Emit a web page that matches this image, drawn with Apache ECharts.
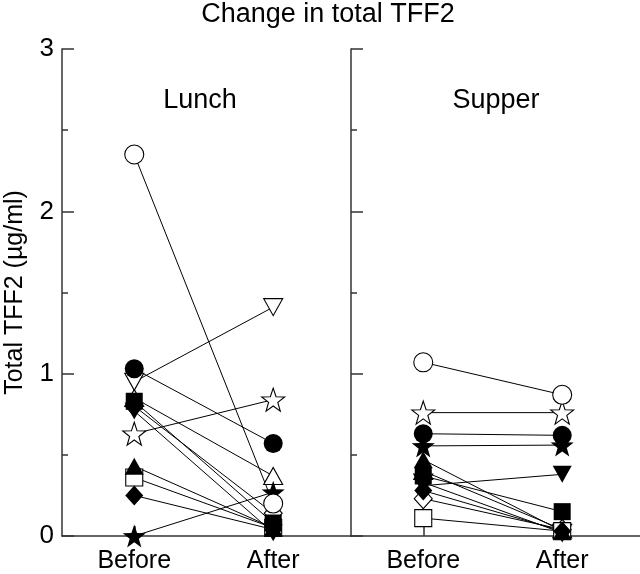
<!DOCTYPE html>
<html>
<head>
<meta charset="utf-8">
<script src="https://cdn.jsdelivr.net/npm/echarts@6/dist/echarts.min.js"></script>
<style>html,body{margin:0;padding:0;background:#fff}#c{width:640px;height:574px}</style>
</head>
<body>
<div id="c"></div>
<script>
// ---- data ----
var phases = ['Before', 'After'];
var panels = ['Lunch', 'Supper'];
var titleText = 'Change in total TFF2';
var yName = 'Total TFF2 (µg/ml)';
var yTicks = [0, 1, 2, 3];
// subjects, in drawing order
var subjectSymbols = ['triangle', 'diamond', 'triangleDown', 'rect', 'diamond', 'triangle', 'triangleDown', 'rect', 'star', 'circle', 'star', 'circle'];
var subjectFilled  = [false, false, false, false, true, true, true, true, true, true, false, false];
var lunchBefore  = [0.85, 0.80, 0.95, 0.36, 0.25, 0.43, 0.77, 0.83, 0.00, 1.03, 0.63, 2.35];
var lunchAfter   = [0.37, 0.14, 1.41, 0.05, 0.04, 0.05, 0.02, 0.08, 0.27, 0.57, 0.84, 0.20];
var supperBefore = [0.40, 0.23, 0.33, 0.11, 0.28, 0.47, 0.31, 0.37, 0.555, 0.63, 0.76, 1.07];
var supperAfter  = [0.04, 0.04, 0.02, 0.03, 0.03, 0.03, 0.38, 0.15, 0.56, 0.62, 0.76, 0.87];

// ---- rendering ----
var FONT = '"Liberation Sans", Arial, sans-serif';
var AX = '#333';
var STAR = 'path://M0,-10L2.35,-3.24L9.51,-3.09L3.8,1.24L5.88,8.09L0,4L-5.88,8.09L-3.8,1.24L-9.51,-3.09L-2.35,-3.24Z';
function symbolOf(s) {
  if (s === 'star') return STAR;
  if (s === 'triangleDown') return 'triangle';
  return s;
}
function sizeOf(s) {
  if (s === 'star') return 23;
  if (s === 'rect') return 17;
  if (s === 'circle') return 19;
  if (s === 'diamond') return [18, 20];
  return [19, 17];
}
var chart = echarts.init(document.getElementById('c'), null, {renderer: 'canvas'});
var panelData = [[lunchBefore, lunchAfter], [supperBefore, supperAfter]];

var grids = [
  {left: 62, top: 49, width: 289, height: 492},
  {left: 351, top: 49, width: 289, height: 492}
];
var xAxes = [], yAxes = [], series = [];
for (var p = 0; p < 2; p++) {
  xAxes.push({
    gridIndex: p, type: 'value', min: -0.52, max: 1.56,
    axisLine: {show: true, onZero: false, lineStyle: {color: AX, width: 1.5}},
    axisTick: {show: true, inside: true, length: 10, customValues: [0, 1], lineStyle: {color: AX, width: 1.5}},
    axisLabel: {customValues: [0, 1], formatter: function (v) { return phases[v]; }, fontSize: 25, color: '#000', fontFamily: FONT, margin: 13},
    splitLine: {show: false}
  });
  yAxes.push({
    gridIndex: p, type: 'value', min: yTicks[0], max: yTicks[yTicks.length - 1], interval: 1,
    name: p === 0 ? yName : '', nameLocation: 'middle', nameGap: 34,
    nameTextStyle: {fontSize: 25, color: '#000', fontFamily: FONT},
    axisLine: {show: true, onZero: false, lineStyle: {color: AX, width: 1.5}},
    axisTick: {show: true, inside: true, length: 12, lineStyle: {color: AX, width: 1.5}},
    minorTick: {show: true, splitNumber: 2, length: 6, lineStyle: {color: AX, width: 1.5}},
    axisLabel: {show: p === 0, fontSize: 26, color: '#000', fontFamily: FONT, margin: 8},
    splitLine: {show: false}
  });
  var b = panelData[p][0], a = panelData[p][1];
  for (var i = 0; i < subjectSymbols.length; i++) {
    series.push({
      type: 'line', xAxisIndex: p, yAxisIndex: p, symbol: 'none', silent: true, z: 2,
      lineStyle: {color: '#000', width: 1},
      data: [[0, b[i]], [1, a[i]]]
    });
  }
  for (var j = 0; j < subjectSymbols.length; j++) {
    var s = subjectSymbols[j];
    series.push({
      type: 'scatter', xAxisIndex: p, yAxisIndex: p, z: 3, clip: false,
      symbol: symbolOf(s), symbolSize: sizeOf(s), symbolRotate: s === 'triangleDown' ? 180 : 0,
      symbolKeepAspect: false,
      itemStyle: {color: subjectFilled[j] ? '#000' : '#fff', borderColor: '#000', borderWidth: subjectFilled[j] ? 0 : 1.1, opacity: 1},
      data: [[0, b[j]], [1, a[j]]]
    });
  }
}

chart.setOption({
  animation: false,
  backgroundColor: '#fff',
  grid: grids,
  xAxis: xAxes,
  yAxis: yAxes,
  series: series,
  graphic: [
    {type: 'text', x: 328, y: 15, style: {text: titleText, fontSize: 27, fontFamily: FONT, fill: '#000', align: 'center', verticalAlign: 'middle'}},
    {type: 'text', x: 200, y: 101, style: {text: panels[0], fontSize: 27, fontFamily: FONT, fill: '#000', align: 'center', verticalAlign: 'middle'}},
    {type: 'text', x: 496, y: 101, style: {text: panels[1], fontSize: 27, fontFamily: FONT, fill: '#000', align: 'center', verticalAlign: 'middle'}}
  ]
});
</script>
</body>
</html>
